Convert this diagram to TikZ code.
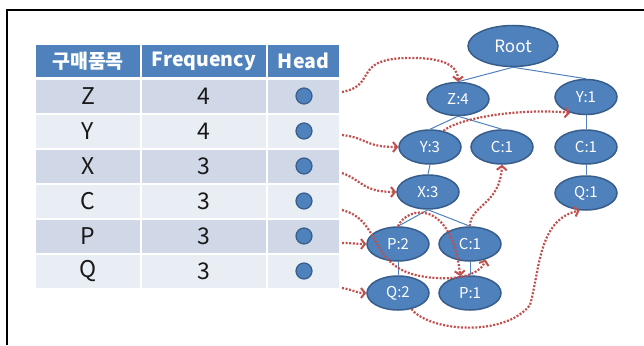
\documentclass[tikz,border=0pt]{standalone}
\usepackage{fontspec}
\setmainfont{Noto Sans CJK KR}
\usetikzlibrary{arrows.meta,shapes.geometric}
\definecolor{hdr}{HTML}{4F81BD}
\definecolor{rowA}{HTML}{D0D8E8}
\definecolor{rowB}{HTML}{E9EDF4}
\definecolor{nodeline}{HTML}{385D8A}
\definecolor{linkred}{HTML}{C0504D}
\begin{document}
\begin{tikzpicture}[x=1pt,y=-1pt,
  cell/.style={draw=white,line width=1.5pt,inner sep=0pt,minimum height=35,
    font=\fontsize{23}{24}\selectfont,text=black!90},
  hcell/.style={cell,fill=hdr,text=white,minimum height=34,
    font=\fontsize{19.5}{21}\selectfont\bfseries},
  colA/.style={minimum width=106},
  colB/.style={minimum width=126},
  colC/.style={minimum width=73},
  headdot/.style={circle,draw=nodeline,line width=1.2pt,fill=hdr,minimum size=16,inner sep=0pt},
  tnode/.style={ellipse,draw=nodeline,line width=1.5pt,fill=hdr,text=white,
    minimum width=62,minimum height=34,inner sep=0pt,font=\fontsize{15}{16}\selectfont},
  tedge/.style={draw=hdr,line width=1pt},
  link/.style={draw=linkred,line width=2.2pt,dash pattern=on 2pt off 1.6pt,
    -{Straight Barb[length=4pt,width=10pt,line width=2pt]}}
]
\useasboundingbox (0,0) rectangle (644,345);
\draw[line width=2pt] (6.5,345) -- (6.5,10) -- (644,10);

% header
\node[hcell,colA] (t0a) at (88,61) {구매품목};
\node[hcell,colB] (t0b) at (204,61) {Frequency};
\node[hcell,colC] (t0c) at (303.5,61) {Head};
% rows
\node[cell,colA,fill=rowA] (t1a) at (88,96.5) {Z};
\node[cell,colB,fill=rowA] (t1b) at (204,96.5) {4};
\node[cell,colC,fill=rowA] (t1c) at (303.5,96.5) {};
\node[cell,colA,fill=rowB] (t2a) at (88,131.5) {Y};
\node[cell,colB,fill=rowB] (t2b) at (204,131.5) {4};
\node[cell,colC,fill=rowB] (t2c) at (303.5,131.5) {};
\node[cell,colA,fill=rowA] (t3a) at (88,166.5) {X};
\node[cell,colB,fill=rowA] (t3b) at (204,166.5) {3};
\node[cell,colC,fill=rowA] (t3c) at (303.5,166.5) {};
\node[cell,colA,fill=rowB] (t4a) at (88,201.5) {C};
\node[cell,colB,fill=rowB] (t4b) at (204,201.5) {3};
\node[cell,colC,fill=rowB] (t4c) at (303.5,201.5) {};
\node[cell,colA,fill=rowA] (t5a) at (88,236.5) {P};
\node[cell,colB,fill=rowA] (t5b) at (204,236.5) {3};
\node[cell,colC,fill=rowA] (t5c) at (303.5,236.5) {};
\node[cell,colA,fill=rowB] (t6a) at (88,271.5) {Q};
\node[cell,colB,fill=rowB] (t6b) at (204,271.5) {3};
\node[cell,colC,fill=rowB] (t6c) at (303.5,271.5) {};

% head dots
\node[headdot] (h1) at (304,96) {};
\node[headdot] (h2) at (304,131) {};
\node[headdot] (h3) at (304,166) {};
\node[headdot] (h4) at (304,201) {};
\node[headdot] (h5) at (304,236) {};
\node[headdot] (h6) at (304,271) {};

% link starts
\coordinate (s1) at (342,92);
\coordinate (s2) at (342,135);
\coordinate (s3) at (342,173);
\coordinate (s4) at (342,210);
\coordinate (s5) at (342,243);
\coordinate (s6) at (342,288);

% tree
\node[tnode,minimum width=90,minimum height=41,font=\fontsize{17}{18}\selectfont] (root) at (513,46) {Root};
\node[tnode,minimum height=33] (z4) at (458,99) {Z:4};
\node[tnode,minimum height=35] (y1) at (586,97) {Y:1};
\node[tnode] (y3) at (430,147) {Y:3};
\node[tnode] (c1m) at (502,147) {C:1};
\node[tnode] (c1r) at (586,147) {C:1};
\node[tnode] (x3) at (428,192) {X:3};
\node[tnode] (q1) at (586,193) {Q:1};
\node[tnode] (p2) at (398,244) {P:2};
\node[tnode] (c1b) at (470,244) {C:1};
\node[tnode] (q2) at (398,293) {Q:2};
\node[tnode] (p1) at (470,293) {P:1};

\draw[tedge] (root.south) -- (z4.north);
\draw[tedge] (root.south) -- (y1.north);
\draw[tedge] (z4.south) -- (y3.north);
\draw[tedge] (z4.south) -- (c1m.north);
\draw[tedge] (y1.south) -- (c1r.north);
\draw[tedge] (y3.south) -- (x3.north);
\draw[tedge] (c1r.south) -- (q1.north);
\draw[tedge] (x3.south) -- (p2.north);
\draw[tedge] (x3.south) -- (c1b.north);
\draw[tedge] (p2.south) -- (q2.north);
\draw[tedge] (c1b.south) -- (p1.north);

% node links
\draw[link] (s1) .. controls (378,85) and (352,60) .. (405,58)
  .. controls (440,57) and (458,64) .. (z4.north);
\draw[link] (s2) .. controls (368,138) and (364,147) .. (y3.west);
\draw[link] (y3.50) .. controls (458,118) and (520,108) .. (y1.225);
\draw[link] (s3) .. controls (362,180) and (362,192) .. (x3.west);
\draw[link] (s4) .. controls (382,220) and (368,266) .. (420,276)
  .. controls (452,282) and (480,276) .. (c1b.-45);
\draw[link] (c1b.north) .. controls (470,205) and (500,205) .. (c1m.south);
\draw[link] (s5) .. controls (352,243) and (358,244) .. (p2.west);
\draw[link] (p2.north) .. controls (408,205) and (452,200) .. (p1.120);
\draw[link] (s6) .. controls (354,290) and (356,293) .. (q2.west);
\draw[link] (q2.-50) .. controls (430,332) and (505,337) .. (530,305)
  .. controls (540,270) and (538,220) .. (q1.250);
\end{tikzpicture}
\end{document}
